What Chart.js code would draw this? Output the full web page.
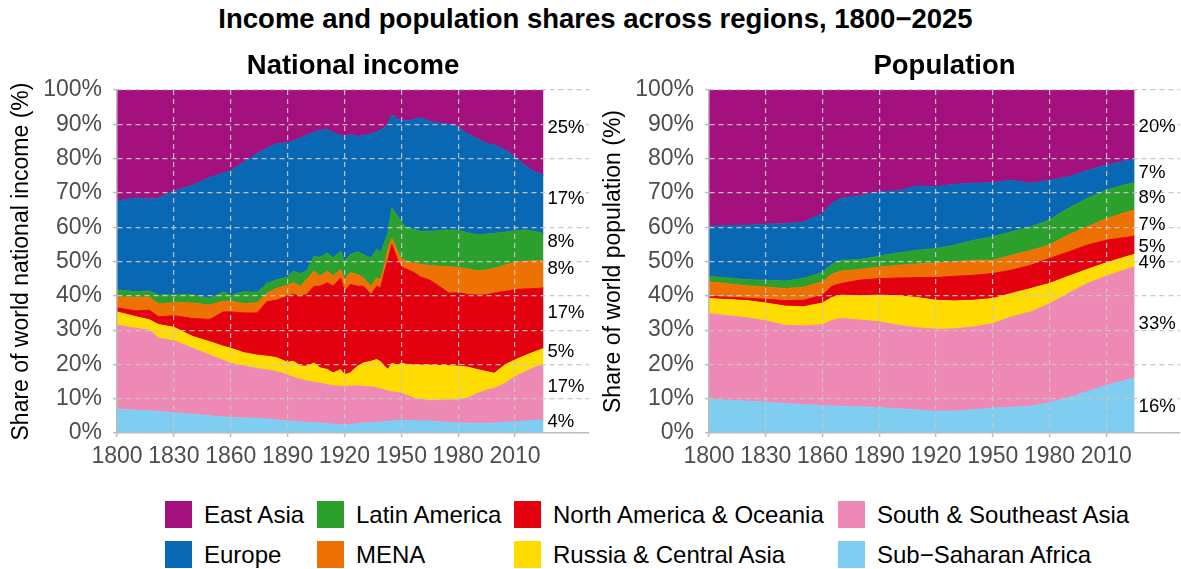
<!DOCTYPE html>
<html>
<head>
<meta charset="utf-8">
<script src="https://cdn.jsdelivr.net/npm/chart.js@4.4.1/dist/chart.umd.min.js"></script>
<style>
  body { margin: 0; background: #fff; font-family: "Liberation Sans", Arial, sans-serif; }
  #wrap { position: relative; width: 1181px; height: 569px; overflow: hidden; background: #fff; }
  canvas { position: absolute; top: 0; }
  #title { position: absolute; left: 5px; top: 5px; width: 1181px; text-align: center;
           font-weight: bold; font-size: 27.5px; line-height: 27px; color: #000; }
  .key { position: absolute; width: 27px; height: 27px; }
  .lab { position: absolute; font-size: 24px; line-height: 27px; white-space: nowrap; color: #000; }
</style>
</head>
<body>
<div id="wrap">
  <div id="title">Income and population shares across regions, 1800−2025</div>
  <canvas id="incomeChart" width="590" height="480" style="left:0px"></canvas>
  <canvas id="popChart" width="589" height="480" style="left:592px"></canvas>
  <div id="legend"></div>
</div>
<script>
// regions, bottom of the stack first
const regions = ['Sub−Saharan Africa', 'South & Southeast Asia', 'Russia & Central Asia',
  'North America & Oceania', 'MENA', 'Latin America', 'Europe', 'East Asia'];
const colours = ['#80CDF2', '#EE88B5', '#FFDC00', '#E3000F', '#EE7203', '#2CA02C', '#0868B3', '#A4117F'];
const xTicks = [1800, 1830, 1860, 1890, 1920, 1950, 1980, 2010];

// share of world national income (%)
const incomeYears = [1800, 1810, 1817, 1822, 1830, 1840, 1849, 1856, 1860, 1867, 1874, 1879, 1884, 1890,
  1893, 1897, 1900, 1904, 1907, 1911, 1914, 1918, 1920, 1923, 1927, 1930, 1934, 1937, 1939, 1941,
  1943, 1945, 1948, 1950, 1953, 1957, 1960, 1965, 1970, 1975, 1980, 1985, 1990, 1995, 1999, 2005,
  2010, 2015, 2020, 2025];
const incomeSSA = [7.0, 6.6, 6.5, 6.3, 5.9, 5.5, 5.0, 4.7, 4.5, 4.4, 4.3, 4.1, 3.8, 3.5,
  3.4, 3.3, 3.1, 3.0, 2.9, 2.7, 2.6, 2.4, 2.4, 2.5, 2.7, 2.9, 3.0, 3.1, 3.2, 3.3,
  3.4, 3.5, 3.7, 3.8, 3.7, 3.6, 3.5, 3.5, 3.3, 3.1, 3.0, 2.9, 2.8, 2.8, 2.9, 3.1,
  3.3, 3.5, 3.7, 3.8];
const incomeSouthAsia = [24.5, 23.9, 23.5, 21.3, 21.0, 19.2, 17.7, 16.5, 15.8, 15.1, 14.5, 14.3, 14.1, 13.4,
  12.9, 12.3, 12.1, 11.8, 11.6, 11.4, 11.2, 11.2, 11.2, 11.1, 11.1, 10.7, 10.4, 10.1, 9.6, 9.3,
  8.8, 8.5, 8.1, 7.8, 7.3, 6.5, 6.3, 5.9, 6.2, 6.5, 6.6, 7.3, 8.7, 9.7, 10.1, 11.5,
  13.1, 14.3, 15.3, 16.1];
const incomeRussia = [3.8, 3.4, 3.0, 4.0, 3.9, 3.4, 3.9, 4.1, 4.4, 3.9, 3.9, 4.0, 4.1, 3.7,
  4.6, 3.9, 4.3, 5.6, 4.5, 4.4, 3.7, 4.9, 3.4, 3.9, 5.7, 6.8, 7.5, 8.2, 8.0, 6.9,
  6.3, 8.3, 8.0, 8.7, 9.0, 9.7, 10.0, 10.4, 10.2, 10.0, 9.9, 9.0, 7.0, 5.4, 4.4, 5.4,
  4.9, 4.7, 4.6, 4.7];
const incomeNorthAmerica = [1.2, 1.7, 2.8, 2.3, 3.4, 5.3, 6.5, 10.0, 10.6, 11.6, 12.3, 15.9, 16.7, 19.3,
  19.5, 20.4, 20.9, 22.4, 23.8, 25.3, 25.3, 26.7, 24.3, 25.8, 23.3, 22.4, 19.5, 21.4, 21.5, 27.2,
  32.1, 34.7, 30.7, 28.2, 27.7, 26.9, 25.7, 24.8, 23.1, 21.2, 21.4, 21.2, 21.7, 22.4, 23.4, 21.3,
  20.5, 19.5, 18.5, 17.7];
const incomeMENA = [3.2, 3.9, 3.8, 3.7, 3.8, 4.5, 4.2, 3.1, 3.1, 2.7, 3.0, 2.4, 3.4, 3.2,
  3.4, 2.9, 4.3, 4.4, 2.9, 3.4, 2.9, 2.5, 3.4, 3.4, 3.4, 2.4, 2.4, 2.4, 2.4, 1.9,
  2.9, 1.8, 2.5, 2.3, 2.3, 2.8, 3.7, 4.2, 5.8, 7.7, 7.4, 7.4, 7.1, 7.2, 7.2, 7.7,
  8.0, 8.1, 8.1, 7.9];
const incomeLatinAmerica = [2.0, 1.7, 1.8, 2.6, 2.4, 2.4, 1.9, 2.8, 1.8, 3.5, 3.0, 2.9, 2.5, 2.4,
  3.4, 3.7, 2.5, 4.4, 5.5, 5.3, 5.4, 5.3, 5.4, 5.3, 6.6, 6.8, 8.2, 8.3, 7.9, 6.8,
  4.9, 8.9, 10.2, 10.7, 9.8, 9.8, 9.6, 10.0, 10.4, 10.7, 10.8, 10.6, 10.5, 10.5, 10.2, 9.6,
  9.1, 9.1, 8.6, 7.9];
const incomeEurope = [26.0, 27.3, 26.8, 28.3, 30.1, 32.0, 35.3, 34.6, 36.3, 37.8, 40.5, 39.4, 39.7, 39.1,
  38.0, 39.5, 39.7, 36.1, 37.0, 36.1, 36.4, 33.8, 36.4, 35.0, 33.7, 34.8, 36.2, 34.3, 35.7, 33.6,
  31.9, 27.1, 28.3, 29.7, 31.2, 32.2, 33.1, 32.0, 31.3, 30.9, 30.2, 28.8, 28.1, 26.4, 25.8, 23.9,
  21.6, 18.9, 17.4, 17.1];
const incomeEastAsia = [32.3, 31.5, 31.8, 31.5, 29.5, 27.7, 25.5, 24.2, 23.5, 21.0, 18.5, 17.0, 15.7, 15.4,
  14.8, 14.0, 13.1, 12.3, 11.8, 11.4, 12.5, 13.2, 13.5, 13.0, 13.5, 13.2, 12.8, 12.2, 11.7, 11.0,
  9.7, 7.2, 8.5, 8.8, 9.0, 8.5, 8.1, 9.2, 9.7, 9.9, 10.7, 12.8, 14.1, 15.6, 16.0, 17.5,
  19.5, 21.9, 23.8, 24.8];
const incomeLabels = ['4%', '17%', '5%', '17%', '8%', '8%', '17%', '25%'];

// share of world population (%)
const popYears = [1800, 1820, 1830, 1840, 1850, 1860, 1865, 1870, 1880, 1890, 1900, 1910, 1920,
  1930, 1940, 1950, 1960, 1970, 1980, 1990, 2000, 2010, 2020, 2025];
const popSSA = [9.8, 9.3, 9.0, 8.6, 8.3, 8.0, 7.9, 7.8, 7.6, 7.4, 7.1, 6.7, 6.3,
  6.4, 6.8, 7.3, 7.5, 7.8, 8.8, 10.3, 12.0, 13.9, 15.3, 16.1];
const popSouthAsia = [25.0, 24.3, 23.7, 22.8, 22.9, 23.6, 24.9, 25.6, 25.3, 25.0, 24.3, 24.0, 23.9,
  24.0, 24.1, 24.6, 26.4, 27.5, 28.9, 30.4, 31.6, 31.8, 32.3, 32.3];
const popRussia = [4.4, 5.0, 5.2, 5.6, 5.6, 6.3, 6.7, 6.8, 7.1, 7.8, 8.6, 8.8, 8.5,
  8.1, 7.8, 7.3, 6.8, 6.8, 5.9, 5.0, 4.1, 3.9, 3.7, 3.7];
const popNorthAmerica = [0.7, 0.7, 1.1, 1.6, 1.9, 2.3, 3.3, 3.4, 4.6, 4.8, 5.2, 5.8, 6.6,
  7.2, 7.3, 7.3, 6.8, 6.8, 7.3, 7.1, 7.1, 6.6, 5.7, 5.3];
const popMENA = [4.2, 3.6, 3.6, 3.5, 3.8, 3.9, 3.5, 3.6, 3.1, 3.4, 3.7, 4.0, 4.3,
  4.2, 4.4, 3.9, 4.3, 4.3, 3.9, 4.9, 5.3, 6.3, 7.2, 7.6];
const popLatinAmerica = [1.6, 1.8, 1.9, 2.2, 2.6, 2.7, 2.9, 3.2, 2.9, 3.2, 3.6, 4.0, 4.2,
  4.9, 5.8, 6.8, 6.9, 6.9, 7.3, 7.8, 8.3, 8.3, 8.2, 8.0];
const popEurope = [14.6, 15.9, 16.4, 16.7, 16.4, 17.2, 17.8, 18.0, 18.6, 18.7, 18.1, 18.7, 18.0,
  17.7, 16.6, 15.8, 15.0, 12.7, 11.6, 9.2, 8.1, 7.3, 6.9, 6.8];
const popEastAsia = [39.7, 39.4, 39.1, 39.0, 38.5, 36.0, 33.0, 31.6, 30.8, 29.7, 29.4, 28.0, 28.2,
  27.5, 27.2, 27.0, 26.3, 27.2, 26.3, 25.3, 23.5, 21.9, 20.7, 20.2];
const popLabels = ['16%', '33%', '4%', '5%', '7%', '8%', '7%', '20%'];

const fontFamily = '"Liberation Sans", Arial, sans-serif';
const gridColour = 'rgba(198,198,198,0.95)';
const axisColour = '#bcbcbc';
const tickColour = '#4d4d4d';

// panel heading, centred on the plot area
const panelTitle = {
  id: 'panelTitle',
  afterDraw(chart, args, opts) {
    const {ctx, chartArea} = chart;
    ctx.save();
    ctx.font = 'bold 27.5px ' + fontFamily;
    ctx.fillStyle = '#000';
    ctx.textAlign = 'center';
    ctx.textBaseline = 'alphabetic';
    ctx.fillText(opts.text, (chartArea.left + chartArea.right) / 2, 73.5);
    ctx.restore();
  }
};

// percentage labels at the right end of each band
const endLabels = {
  id: 'endLabels',
  afterDraw(chart, args, opts) {
    const {ctx, scales: {x, y}} = chart;
    let base = 0;
    ctx.save();
    ctx.font = '18.5px ' + fontFamily;
    ctx.fillStyle = '#000';
    ctx.textAlign = 'left';
    ctx.textBaseline = 'middle';
    chart.data.datasets.forEach((ds, i) => {
      const last = ds.data[ds.data.length - 1];
      const mid = base + last.y / 2;
      base += last.y;
      ctx.fillText(opts.labels[i], x.getPixelForValue(last.x) + 4, y.getPixelForValue(mid) + opts.shift);
    });
    ctx.restore();
  }
};

function buildDatasets(years, series) {
  return regions.map((name, i) => ({
    label: name,
    data: years.map((yr, j) => ({x: yr, y: series[i][j]})),
    backgroundColor: colours[i],
    borderColor: colours[i],
    borderWidth: 1,
    pointRadius: 0,
    tension: 0,
    fill: i === 0 ? 'origin' : '-1'
  }));
}

function makeChart(id, years, series, title, yTitle, labels, shift) {
  const gridOpts = {
    color: gridColour, lineWidth: 1.2, z: 1,
    tickLength: 4, tickColor: axisColour, tickWidth: 1.5, tickBorderDash: []
  };
  const borderOpts = {color: axisColour, width: 1.5, dash: [5, 4], z: 2};
  return new Chart(document.getElementById(id), {
    type: 'line',
    data: {datasets: buildDatasets(years, series)},
    options: {
      responsive: false,
      animation: false,
      devicePixelRatio: 1,
      layout: {padding: {top: 90, right: 1, bottom: 0, left: 0}},
      plugins: {
        legend: {display: false},
        tooltip: {enabled: false},
        panelTitle: {text: title},
        endLabels: {labels: labels, shift: shift}
      },
      scales: {
        x: {
          type: 'linear', min: 1800, max: 2049,
          afterBuildTicks: s => { s.ticks = xTicks.map(v => ({value: v})); },
          afterFit: s => { s.height = 47; },
          grid: gridOpts,
          border: borderOpts,
          ticks: {autoSkip: false, maxRotation: 0, padding: 6, color: tickColour,
                  font: {size: 23, family: fontFamily}, callback: v => String(v)}
        },
        y: {
          stacked: true, min: 0, max: 100,
          afterFit: s => { s.width = 117; },
          grid: gridOpts,
          border: borderOpts,
          ticks: {stepSize: 10, padding: 11, color: tickColour,
                  font: {size: 23, family: fontFamily}, callback: v => v + '%'},
          title: {display: true, text: yTitle, color: '#000',
                  font: {size: 23, family: fontFamily}, padding: {top: 8, bottom: 0}}
        }
      }
    },
    plugins: [panelTitle, endLabels]
  });
}

makeChart('incomeChart', incomeYears,
  [incomeSSA, incomeSouthAsia, incomeRussia, incomeNorthAmerica, incomeMENA, incomeLatinAmerica, incomeEurope, incomeEastAsia],
  'National income', 'Share of world national income (%)', incomeLabels, -5);
makeChart('popChart', popYears,
  [popSSA, popSouthAsia, popRussia, popNorthAmerica, popMENA, popLatinAmerica, popEurope, popEastAsia],
  'Population', 'Share of world population (%)', popLabels, 2);

// legend: four columns, filled top to bottom, East Asia first
const legendCols = [165, 317, 514, 838];
const legendRows = [501, 541];
const legend = document.getElementById('legend');
regions.slice().reverse().forEach((name, k) => {
  const idx = regions.length - 1 - k;
  const left = legendCols[Math.floor(k / 2)];
  const top = legendRows[k % 2];
  const key = document.createElement('div');
  key.className = 'key';
  key.style.left = left + 'px';
  key.style.top = top + 'px';
  key.style.background = colours[idx];
  legend.appendChild(key);
  const lab = document.createElement('div');
  lab.className = 'lab';
  lab.style.left = (left + 39) + 'px';
  lab.style.top = top + 'px';
  lab.textContent = name;
  legend.appendChild(lab);
});
</script>
</body>
</html>
